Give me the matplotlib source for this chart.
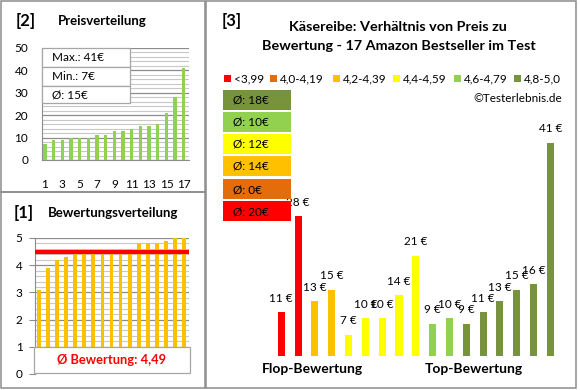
import matplotlib
matplotlib.use('Agg')
import matplotlib.pyplot as plt
from matplotlib.patches import Rectangle
import numpy as np

plt.rcParams['font.family'] = ['Lato', 'DejaVu Sans']

# Produkte, sortiert nach Bewertung (flop -> top)
prices = [11, 28, 13, 15, 7, 10, 10, 14, 21, 9, 10, 9, 11, 13, 15, 16, 41]
ratings = [3.1, 3.9, 4.2, 4.3, 4.4, 4.4, 4.4, 4.4, 4.4, 4.6, 4.6, 4.8, 4.8, 4.8, 4.9, 5.0, 5.0]
avg_rating = 4.49

cat_labels = ['<3,99', '4,0-4,19', '4,2-4,39', '4,4-4,59', '4,6-4,79', '4,8-5,0']
cat_lo = [0.0, 3.995, 4.195, 4.395, 4.595, 4.795]
cat_hi = [3.995, 4.195, 4.395, 4.595, 4.795, 5.01]
cat_colors = ['#FF0000', '#E46C0A', '#FFC000', '#FFFF00', '#92D050', '#77933C']

W, H = 580, 390
fig = plt.figure(figsize=(5.8, 3.9), dpi=100)


def rect(l, t, r, b):
    return [l / W, 1 - b / H, (r - l) / W, (b - t) / H]


def cat_of(r):
    for i in range(len(cat_lo)):
        if cat_lo[i] <= r < cat_hi[i]:
            return i
    return len(cat_lo) - 1


n = len(prices)
xs = np.arange(1, n + 1)
major_c = '#8C8C8C'
minor_c = '#C8C8C8'

# [2] Preisverteilung
ax2 = fig.add_axes(rect(42, 47.7, 189, 160))
ax2.bar(xs, sorted(prices), width=0.38, color='#92D050', zorder=3)
ax2.set_xlim(0.66, 17.6)
ax2.set_ylim(0, 50)
ax2.set_yticks(range(0, 51, 10))
ax2.set_yticks(range(0, 51, 2), minor=True)
ax2.set_xticks(range(1, 18, 2))
ax2.grid(axis='y', which='major', color=major_c, lw=0.9, zorder=1)
ax2.grid(axis='y', which='minor', color=minor_c, lw=0.8, zorder=0)
ax2.tick_params(axis='both', which='both', length=0, labelsize=8.5)
ax2.tick_params(axis='y', pad=10)
ax2.tick_params(axis='x', pad=14)
for s in ['top', 'right']:
    ax2.spines[s].set_visible(False)
for s in ['left', 'bottom']:
    ax2.spines[s].set_color(major_c)

# [1] Bewertungsverteilung
ax1 = fig.add_axes(rect(35, 238, 189, 374))
ax1.bar(xs, ratings, width=0.42, color='#FFC000', zorder=3)
ax1.plot([0.75, 17.5], [avg_rating, avg_rating], color='#FF0000', lw=3, zorder=4)
ax1.set_xlim(0.56, 17.55)
ax1.set_ylim(0, 5)
ax1.set_yticks(range(0, 6))
ax1.set_yticks(np.arange(0, 5.01, 0.2), minor=True)
ax1.set_xticks([])
ax1.grid(axis='y', which='major', color=major_c, lw=0.9, zorder=1)
ax1.grid(axis='y', which='minor', color=minor_c, lw=0.8, zorder=0)
ax1.tick_params(axis='y', which='major', length=4, color=major_c, labelsize=8.5, pad=5)
ax1.tick_params(axis='y', which='minor', length=0)
for s in ['top', 'right', 'bottom']:
    ax1.spines[s].set_visible(False)
ax1.spines['left'].set_color(major_c)
ax1.add_patch(Rectangle((0.45, 0.03), 17.2, 0.97, facecolor='white', edgecolor='#A6A6A6',
                        lw=0.9, zorder=5, clip_on=False))
ax1.text(9.05, 0.5, 'Ø Bewertung: ' + f'{avg_rating:.2f}'.replace('.', ','), color='#FF0000',
         fontsize=9.3, fontweight='bold', ha='center', va='center', zorder=6)

# [3] Preis zu Bewertung
ax3 = fig.add_axes(rect(264.5, 130, 567.1, 356))
cats = [cat_of(r) for r in ratings]
ax3.bar(xs, prices, width=0.42, color=[cat_colors[c] for c in cats], zorder=3)
ax3.set_xlim(0, 18)
ax3.set_ylim(3.28, 43.28)
ax3.axis('off')
for x, p in zip(xs, prices):
    ax3.annotate(f'{p} €', (x, p), xytext=(0, 14), textcoords='offset pixels',
                 ha='center', va='center', fontsize=8.5, annotation_clip=False)

# Overlay for frames, titles, legend
ov = fig.add_axes([0, 0, 1, 1], facecolor='none')
ov.set_xlim(0, W)
ov.set_ylim(H, 0)
ov.axis('off')
frame_c = '#8C8C8C'
for l, t, r, b in [(1, 1, 205, 192), (1, 192, 205, 388), (206, 1, 576, 388)]:
    ov.add_patch(Rectangle((l, t), r - l, b - t, fill=False, edgecolor=frame_c, lw=1.1))

ov.text(16, 21, '[2]', fontsize=12, fontweight='bold', va='center')
ov.text(58, 21, 'Preisverteilung', fontsize=9.5, fontweight='bold', va='center')
ov.text(14, 213, '[1]', fontsize=12, fontweight='bold', va='center')
ov.text(48, 213, 'Bewertungsverteilung', fontsize=9.5, fontweight='bold', va='center')
ov.text(222, 21, '[3]', fontsize=12, fontweight='bold', va='center')
ov.text(398, 27, 'Käsereibe: Verhältnis von Preis zu', fontsize=10.4, fontweight='bold',
        ha='center', va='center')
ov.text(399, 46, 'Bewertung - 17 Amazon Bestseller im Test', fontsize=10.4, fontweight='bold',
        ha='center', va='center')

# stats box
box_rows = ['Max.: %d€' % max(prices), 'Min.: %d€' % min(prices),
            'Ø: %d€' % int(np.mean(prices) + 0.5)]
row_t = [47.7, 67, 86]
row_b = [67, 86, 103]
for txt, t, b in zip(box_rows, row_t, row_b):
    ov.add_patch(Rectangle((42, t), 88, b - t, facecolor='white', edgecolor='#A6A6A6', lw=0.9))
    ov.text(52, (t + b) / 2 + 0.5, txt, fontsize=8.5, va='center')

# legend
leg_sq = [227, 273, 336, 396, 457, 517]
for x, lab, c in zip(leg_sq, cat_labels, cat_colors):
    ov.add_patch(Rectangle((x - 3, 75), 7, 7, facecolor=c, edgecolor='none'))
    ov.text(x + 7, 78.5, lab, fontsize=8.5, va='center')
ov.text(562, 98, '©Testerlebnis.de', fontsize=8.5, ha='right', va='center')

# averages per category
box_tops = [90, 112, 134, 156, 179, 201]
for k, t in zip(range(len(cat_colors) - 1, -1, -1), box_tops):
    vals = [p for p, c in zip(prices, cats) if c == k]
    avg = int(np.mean(vals) + 0.5) if vals else 0
    ov.add_patch(Rectangle((223, t), 68, 20, facecolor=cat_colors[k], edgecolor='none'))
    ov.text(233, t + 10.5, 'Ø: %d€' % avg, fontsize=8.5, va='center')

ov.text(312, 369, 'Flop-Bewertung', fontsize=10, fontweight='bold', ha='center', va='center')
ov.text(474, 369, 'Top-Bewertung', fontsize=10, fontweight='bold', ha='center', va='center')

fig.savefig('out.png', dpi=100)
